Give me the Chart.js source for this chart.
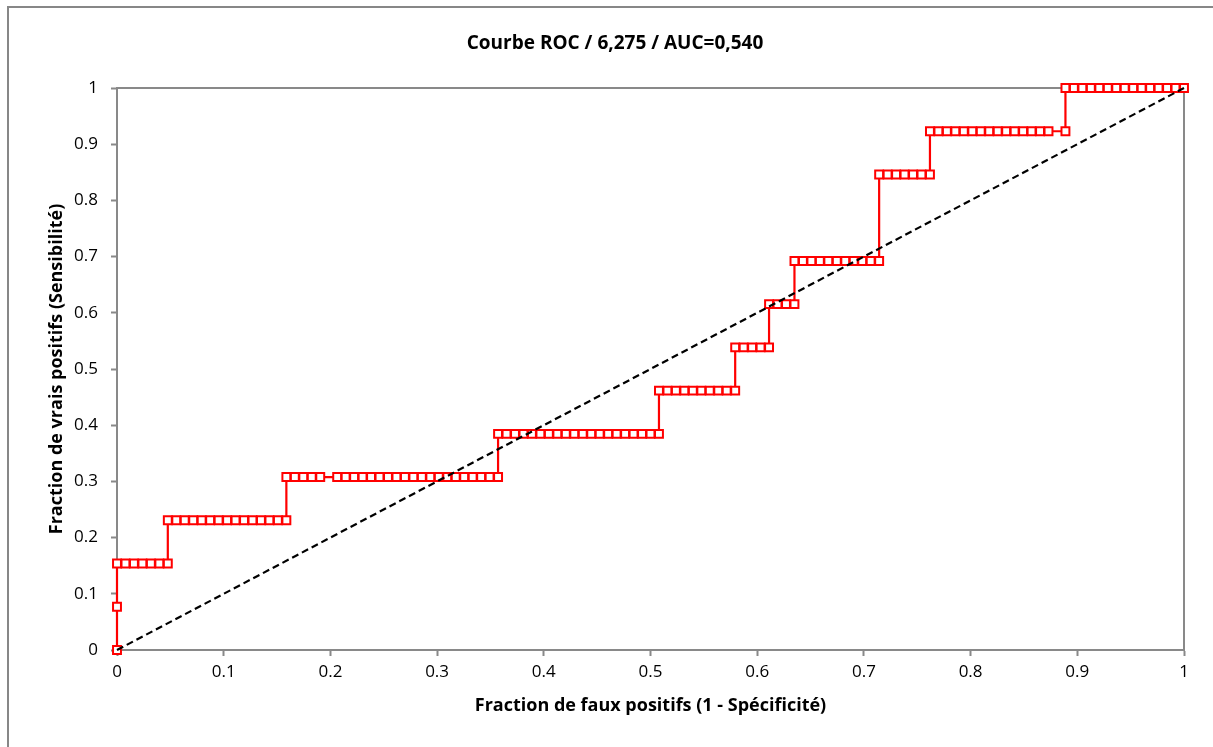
<!DOCTYPE html>
<html>
<head>
<meta charset="utf-8">
<script src="https://cdn.jsdelivr.net/npm/chart.js@4/dist/chart.umd.min.js"></script>
<style>
  html, body { margin: 0; padding: 0; background: #ffffff; }
  #wrap { width: 1213px; height: 747px; }
</style>
</head>
<body>
<div id="wrap"><canvas id="c" width="1213" height="747"></canvas></div>
<script>
// ---- Data ----
const chartTitle = 'Courbe ROC / 6,275 / AUC=0,540';
const xAxisTitle = 'Fraction de faux positifs (1 - Spécificité)';
const yAxisTitle = 'Fraction de vrais positifs (Sensibilité)';

const totalNegatives = 126;
const totalPositives = 13;

// number of false positives at each ROC point
const fpCounts = [
  0, 0, 0, 1, 2, 3, 4, 5, 6,
  6, 7, 8, 9, 10, 11, 12, 13, 14, 15, 16, 17, 18, 19, 20,
  20, 21, 22, 23, 24, 26, 27, 28, 29, 30, 31, 32, 33, 34, 35, 36, 37, 38, 39, 40, 41, 42, 43, 44, 45,
  45, 46, 47, 48, 49, 50, 51, 52, 53, 54, 55, 56, 57, 58, 59, 60, 61, 62, 63, 64,
  64, 65, 66, 67, 68, 69, 70, 71, 72, 73,
  73, 74, 75, 76, 77,
  77, 78, 79, 80,
  80, 81, 82, 83, 84, 85, 86, 87, 88, 89, 90,
  90, 91, 92, 93, 94, 95, 96,
  96, 97, 98, 99, 100, 101, 102, 103, 104, 105, 106, 107, 108, 109, 110, 112,
  112, 113, 114, 115, 116, 117, 118, 119, 120, 121, 122, 123, 124, 125, 126
];
// number of true positives at each ROC point
const tpCounts = [
  0, 1, 2, 2, 2, 2, 2, 2, 2,
  3, 3, 3, 3, 3, 3, 3, 3, 3, 3, 3, 3, 3, 3, 3,
  4, 4, 4, 4, 4, 4, 4, 4, 4, 4, 4, 4, 4, 4, 4, 4, 4, 4, 4, 4, 4, 4, 4, 4, 4,
  5, 5, 5, 5, 5, 5, 5, 5, 5, 5, 5, 5, 5, 5, 5, 5, 5, 5, 5, 5,
  6, 6, 6, 6, 6, 6, 6, 6, 6, 6,
  7, 7, 7, 7, 7,
  8, 8, 8, 8,
  9, 9, 9, 9, 9, 9, 9, 9, 9, 9, 9,
  11, 11, 11, 11, 11, 11, 11,
  12, 12, 12, 12, 12, 12, 12, 12, 12, 12, 12, 12, 12, 12, 12, 12,
  13, 13, 13, 13, 13, 13, 13, 13, 13, 13, 13, 13, 13, 13, 13
];

const diagonalX = [0, 1];
const diagonalY = [0, 1];

const xTickLabels = ['0', '0.1', '0.2', '0.3', '0.4', '0.5', '0.6', '0.7', '0.8', '0.9', '1'];
const yTickLabels = ['0', '0.1', '0.2', '0.3', '0.4', '0.5', '0.6', '0.7', '0.8', '0.9', '1'];

// ---- Build library structures ----
const rocPoints = fpCounts.map((fp, i) => ({ x: fp / totalNegatives, y: tpCounts[i] / totalPositives }));
const diagPoints = diagonalX.map((x, i) => ({ x: x, y: diagonalY[i] }));

const AXIS_GRAY = '#898989';
const FONT = "'Open Sans', 'Liberation Sans', sans-serif";

const framePlugin = {
  id: 'frame',
  beforeDraw(chart) {
    const ctx = chart.ctx;
    ctx.save();
    ctx.fillStyle = '#ffffff';
    ctx.fillRect(0, 0, chart.width, chart.height);
    ctx.strokeStyle = '#878787';
    ctx.lineWidth = 2;
    ctx.strokeRect(8, 7, chart.width + 20, chart.height + 20);
    ctx.restore();
  },
  beforeDatasetsDraw(chart) {
    const a = chart.chartArea;
    const ctx = chart.ctx;
    ctx.save();
    ctx.strokeStyle = AXIS_GRAY;
    ctx.lineWidth = 2;
    ctx.beginPath();
    ctx.moveTo(a.left, a.top);
    ctx.lineTo(a.right, a.top);
    ctx.lineTo(a.right, a.bottom);
    ctx.stroke();
    ctx.restore();
  }
};

new Chart(document.getElementById('c'), {
  type: 'scatter',
  data: {
    datasets: [
      {
        label: 'Diagonale',
        data: diagPoints,
        showLine: true,
        borderColor: '#000000',
        borderWidth: 2.2,
        borderDash: [7, 4],
        pointRadius: 0,
        pointHoverRadius: 0,
        fill: false,
        clip: false
      },
      {
        label: 'ROC',
        data: rocPoints,
        showLine: true,
        borderColor: '#ff0000',
        borderWidth: 2.2,
        tension: 0,
        pointStyle: 'rect',
        pointRadius: 5.6,
        pointBorderWidth: 2,
        pointBorderColor: '#ff0000',
        pointBackgroundColor: '#ffffff',
        fill: false,
        clip: false
      }
    ]
  },
  options: {
    responsive: false,
    animation: false,
    devicePixelRatio: 1,
    layout: { padding: { left: 46, right: 29, top: 0, bottom: 0 } },
    plugins: {
      legend: { display: false },
      tooltip: { enabled: false },
      title: {
        display: true,
        text: chartTitle,
        color: '#000000',
        font: { family: FONT, size: 19, weight: 'bold', lineHeight: 1.2 },
        padding: { top: 32.6, bottom: 32.6 }
      }
    },
    scales: {
      x: {
        type: 'linear',
        position: 'bottom',
        min: 0,
        max: 1,
        afterFit(scale) { scale.height = 97; },
        afterBuildTicks(scale) { scale.ticks = xTickLabels.map((t, i) => ({ value: i / (xTickLabels.length - 1) })); },
        ticks: {
          stepSize: 0.1,
          autoSkip: false,
          maxRotation: 0,
          color: '#000000',
          padding: 6,
          font: { family: FONT, size: 17 },
          callback: (v, i) => xTickLabels[i]
        },
        grid: {
          drawOnChartArea: false,
          drawTicks: true,
          tickLength: 6,
          tickWidth: 2,
          tickColor: AXIS_GRAY
        },
        border: { display: true, color: AXIS_GRAY, width: 2 },
        title: {
          display: true,
          text: xAxisTitle,
          color: '#000000',
          font: { family: FONT, size: 18, weight: 'bold', lineHeight: 1.2 },
          padding: { top: 0, bottom: 30.2 }
        }
      },
      y: {
        type: 'linear',
        position: 'left',
        min: 0,
        max: 1,
        afterFit(scale) { scale.width = 71; },
        afterBuildTicks(scale) { scale.ticks = yTickLabels.map((t, i) => ({ value: i / (yTickLabels.length - 1) })); },
        ticks: {
          stepSize: 0.1,
          autoSkip: false,
          color: '#000000',
          padding: 13,
          font: { family: FONT, size: 17 },
          callback: (v, i) => yTickLabels[i]
        },
        grid: {
          drawOnChartArea: false,
          drawTicks: true,
          tickLength: 6,
          tickWidth: 2,
          tickColor: AXIS_GRAY
        },
        border: { display: true, color: AXIS_GRAY, width: 2 },
        title: {
          display: true,
          text: yAxisTitle,
          color: '#000000',
          font: { family: FONT, size: 18, weight: 'bold', lineHeight: 1.2 },
          padding: { top: 0.2, bottom: 0 }
        }
      }
    }
  },
  plugins: [framePlugin]
});
</script>
</body>
</html>
